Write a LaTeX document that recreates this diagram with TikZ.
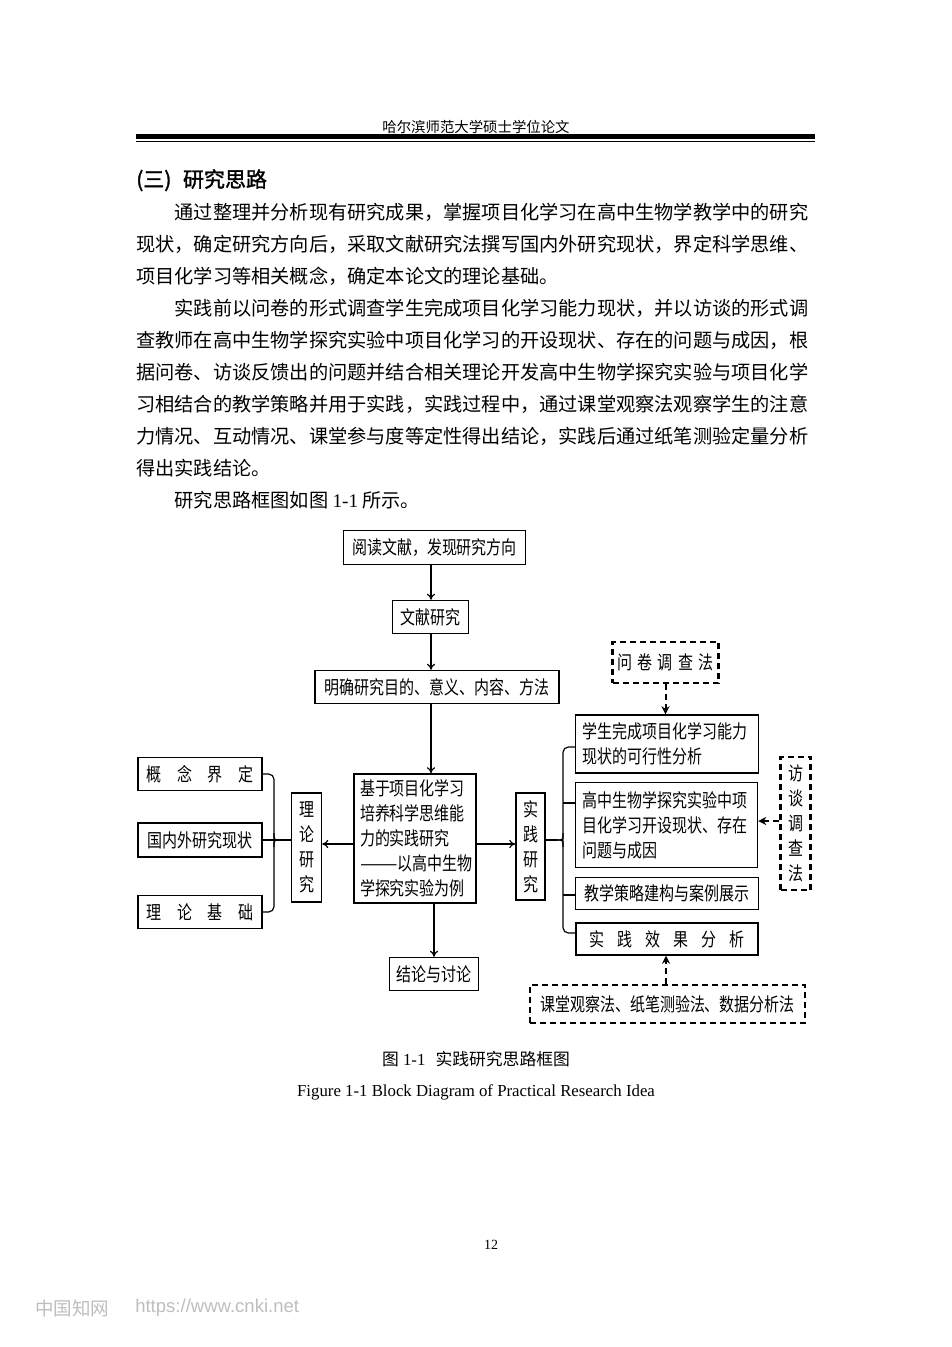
\documentclass[tikz,border=0pt]{standalone}
\usepackage{fontspec}
\setmainfont{Liberation Serif}
\newfontfamily\cjk{Noto Sans CJK SC}
\newfontfamily\cjkd{Noto Sans CJK SC}[FakeStretch=0.8]
\newfontfamily\cjkh{Noto Sans CJK SC}[FakeBold=1.5]
\newfontfamily\wmfont{Liberation Sans}
\usetikzlibrary{arrows.meta}
\newcommand{\dfont}{\cjkd\fontsize{14.06pt}{18.75pt}\selectfont}
\newcommand{\bfont}{\cjk\fontsize{14.4pt}{24pt}\selectfont}
\definecolor{wmgray}{RGB}{190,190,190}
\begin{document}
\begin{tikzpicture}[x=0.75pt,y=-0.75pt,
  sz/.style 2 args={minimum width=#1*0.75pt, minimum height=#2*0.75pt},
  bx/.style={draw, line width=1.1pt, inner sep=0pt, font=\dfont, align=center},
  dbx/.style={draw, line width=1.6pt, dash pattern=on 4.5pt off 3pt, inner sep=0pt, font=\dfont, align=center},
  arr/.style={line width=0.9pt, -{To[length=4.5pt,width=6pt]}},
  darr/.style={line width=1.5pt, dash pattern=on 4.5pt off 3pt, -{Stealth[length=6pt,width=6pt]}},
  ln/.style={line width=0.9pt},
  bt/.style={anchor=west, inner sep=0pt, text height=0.88em, text depth=0.12em, font=\bfont},
]
\fill[white] (0,0) rectangle (952,1347);
\useasboundingbox (0,0) rectangle (952,1347);

% header
\node[inner sep=0pt, text height=0.88em, text depth=0.12em, font=\cjk\fontsize{10.8pt}{12pt}\selectfont] (hdr) at (476,127) {哈尔滨师范大学硕士学位论文};
\draw[line width=3.5pt] (136,136.3) -- (815,136.3);
\draw[line width=1pt] (136,141.3) -- (815,141.3);

% heading
\node[anchor=west, inner sep=0pt, text height=0.88em, text depth=0.12em, font=\cjkh\fontsize{15.75pt}{18pt}\selectfont] (hd) at (136,182) {(三)\hspace{0.55em}研究思路};

% body
\node[bt] (t1) at (174.4,214) {通过整理并分析现有研究成果，掌握项目化学习在高中生物学教学中的研究};
\node[bt] (t2) at (136,246) {现状，确定研究方向后，采取文献研究法撰写国内外研究现状，界定科学思维、};
\node[bt] (t3) at (136,278) {项目化学习等相关概念，确定本论文的理论基础。};
\node[bt] (t4) at (174.4,310) {实践前以问卷的形式调查学生完成项目化学习能力现状，并以访谈的形式调};
\node[bt] (t5) at (136,342) {查教师在高中生物学探究实验中项目化学习的开设现状、存在的问题与成因，根};
\node[bt] (t6) at (136,374) {据问卷、访谈反馈出的问题并结合相关理论开发高中生物学探究实验与项目化学};
\node[bt] (t7) at (136,406) {习相结合的教学策略并用于实践，实践过程中，通过课堂观察法观察学生的注意};
\node[bt] (t8) at (136,438) {力情况、互动情况、课堂参与度等定性得出结论，实践后通过纸笔测验定量分析};
\node[bt] (t9) at (136,470) {得出实践结论。};
\node[bt] (t10) at (174.4,502) {研究思路框图如图 {\rmfamily 1-1} 所示。};

% diagram nodes
\node[bx, sz={182}{34}] (A) at (434.5,547.5) {阅读文献，发现研究方向};
\node[bx, sz={76}{33}] (B) at (430.5,617) {文献研究};
\node[bx, sz={244}{33}] (C) at (437,687) {明确研究目的、意义、内容、方法};
\node[bx, sz={122}{129}, inner xsep=4.5pt, text width=82.5pt, align=left] (D) at (415,838.5)
  {基于项目化学习\\培养科学思维能\\力的实践研究\\\resizebox{2em}{\height}{——}以高中生物\\学探究实验为例};
\node[bx, sz={30}{109}] (L) at (306.5,847.5) {理\\论\\研\\究};
\node[bx, sz={29}{107}] (P) at (530.5,846.5) {实\\践\\研\\究};
\node[bx, sz={124}{33}] (K1) at (200,774) {\makebox[81pt][s]{概\hfill 念\hfill 界\hfill 定}};
\node[bx, sz={124}{34}] (K2) at (200,840) {国内外研究现状};
\node[bx, sz={124}{33}] (K3) at (200,912) {\makebox[81pt][s]{理\hfill 论\hfill 基\hfill 础}};
\node[bx, sz={183}{58}, inner xsep=5.25pt, text width=126.75pt, align=left] (E1) at (667,744)
  {学生完成项目化学习能力\\现状的可行性分析};
\node[bx, sz={182}{85}, inner xsep=5.25pt, text width=126pt, align=left] (E2) at (666.5,825)
  {高中生物学探究实验中项\\目化学习开设现状、存在\\问题与成因};
\node[bx, sz={183}{32}] (E3) at (667,893.5) {教学策略建构与案例展示};
\node[bx, sz={182}{32}] (E4) at (667,939) {\makebox[117pt][s]{实\hfill 践\hfill 效\hfill 果\hfill 分\hfill 析}};
\node[dbx, sz={106}{41}] (Q) at (665.5,662.5) {\makebox[72pt][s]{问\hfill 卷\hfill 调\hfill 查\hfill 法}};
\node[dbx, sz={30}{133}] (V) at (795.5,823.5) {访\\谈\\调\\查\\法};
\node[dbx, sz={275}{38}] (O) at (667.5,1004) {课堂观察法、纸笔测验法、数据分析法};
\node[bx, sz={89}{33}] (R) at (434,974) {结论与讨论};

% helper coordinates
\coordinate (vx) at (431,0);
\coordinate (hy) at (0,844);
\coordinate (vy) at (0,821);
\coordinate (ox) at (666,0);
\coordinate (lb) at (274,840);
\coordinate (lt) at (280,840);
\coordinate (rb) at (563,840);
\coordinate (rt) at (557,840);
\coordinate (ry1) at (0,747);
\coordinate (ry2) at (0,803);
\coordinate (ry3) at (0,895);
\coordinate (ry4) at (0,933);

% main arrows
\draw[arr] (A.south -| vx) -- (B.north -| vx);
\draw[arr] (B.south -| vx) -- (C.north -| vx);
\draw[arr] (C.south -| vx) -- (D.north -| vx);
\draw[arr] (D.south -| R) -- (R.north);
\draw[arr] (D.west |- hy) -- (L.east |- hy);
\draw[arr] (D.east |- hy) -- (P.west |- hy);

% dashed arrows
\draw[darr] (Q.south) -- (Q.south |- E1.north);
\draw[darr] (V.west |- vy) -- (E2.east |- vy);
\draw[darr] (O.north -| ox) -- (E4.south -| ox);

% left brace
\draw[ln, rounded corners=4pt] (K1.east) -- (K1.east -| lb) -- (K3.east -| lb) -- (K3.east);
\draw[ln] (K2.east) -- (L.west |- K2.east);
\draw[ln] (274,833) .. controls (274,840) .. (lt);
\draw[ln] (274,847) .. controls (274,840) .. (lt);

% right brace
\draw[ln, rounded corners=4pt] (E1.west |- ry1) -- (rb |- ry1) -- (rb |- ry4) -- (E4.west |- ry4);
\draw[ln] (rb |- ry2) -- (E2.west |- ry2);
\draw[ln] (rb |- ry3) -- (E3.west |- ry3);
\draw[ln] (563,833) .. controls (563,840) .. (rt);
\draw[ln] (563,847) .. controls (563,840) .. (rt);
\draw[ln] (rt) -- (P.east |- rt);

% captions
\node[inner sep=0pt, font=\fontsize{12.6pt}{14pt}\selectfont] (cap1) at (476,1059) {{\cjk 图} 1-1\hspace{0.6em}{\cjk 实践研究思路框图}};
\node[inner sep=0pt, font=\fontsize{12.6pt}{14pt}\selectfont] (cap2) at (476,1092) {Figure 1-1 Block Diagram of Practical Research Idea};

% page number
\node[inner sep=0pt, font=\fontsize{10.5pt}{12pt}\selectfont] (pg) at (491,1245) {12};

% watermark
\node[anchor=west, inner sep=0pt, text=wmgray, font=\cjk\fontsize{13.9pt}{16pt}\selectfont] (wm1) at (35,1308) {中国知网};
\node[anchor=west, inner sep=0pt, text=wmgray, font=\wmfont\fontsize{13.9pt}{16pt}\selectfont] (wm2) at (135,1308) {https://www.cnki.net};
\end{tikzpicture}
\end{document}
